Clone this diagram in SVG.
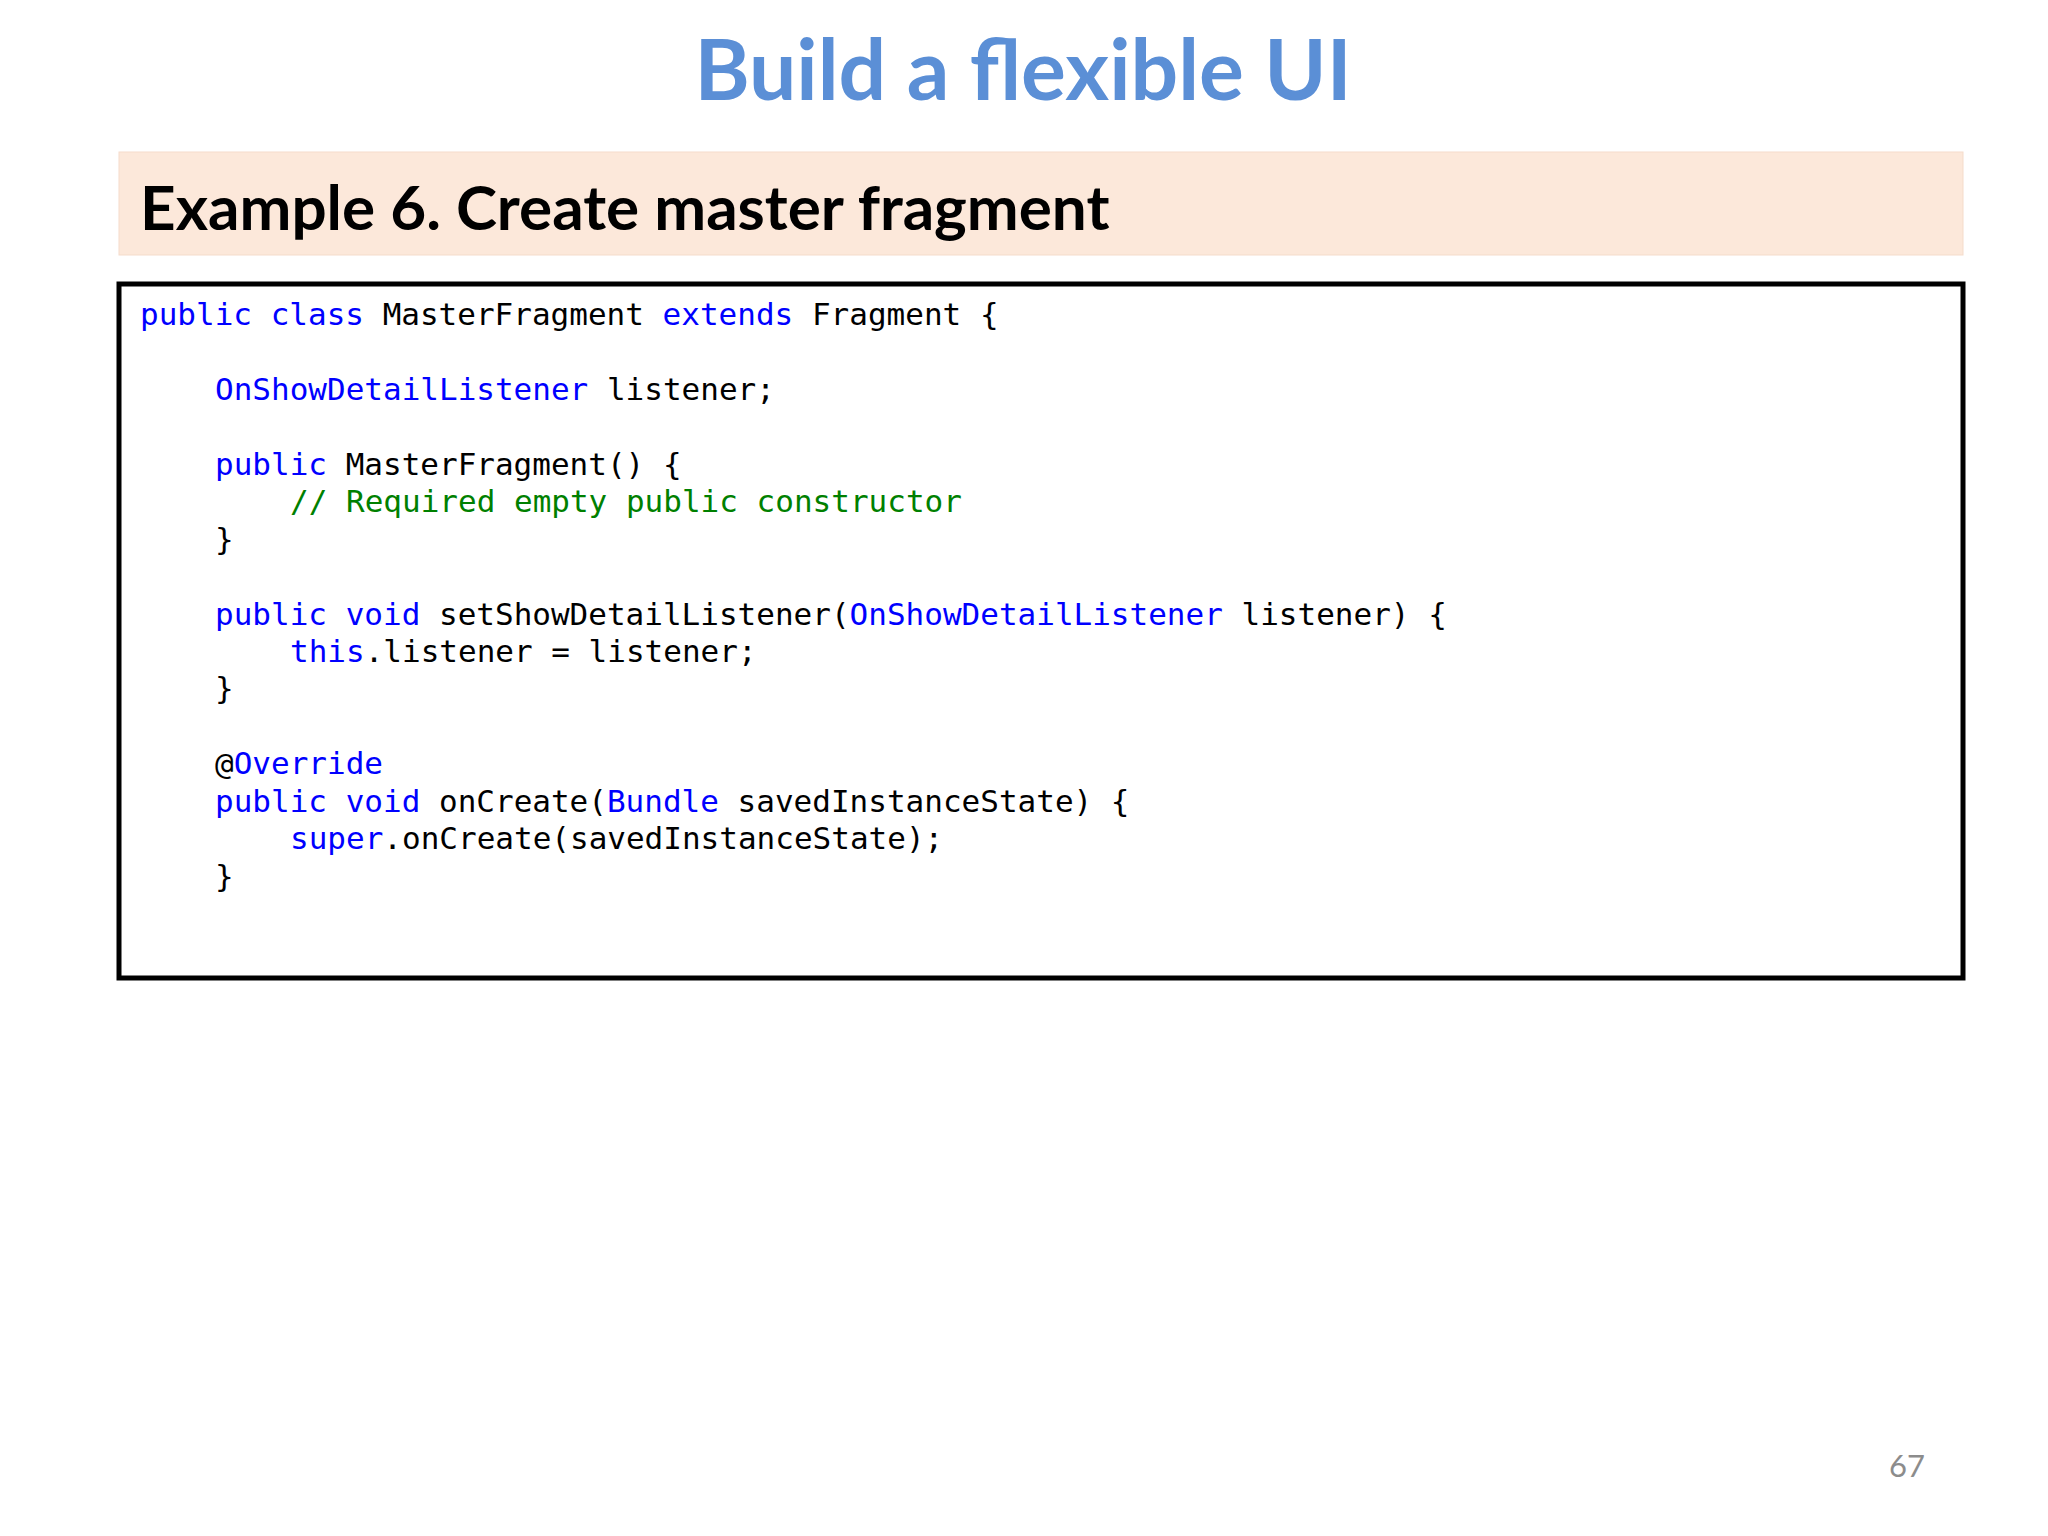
<svg xmlns="http://www.w3.org/2000/svg" width="2048" height="1536" viewBox="0 0 2048 1536">
<style>
.c{font-family:"DejaVu Sans Mono",monospace;font-size:31px;fill:#000;white-space:pre}
.k{fill:#0000ff}.g{fill:#008000}
</style>
<rect width="2048" height="1536" fill="#fff"/>
<g id="title"><text x="1023" y="100" text-anchor="middle" font-family="Lato,'Liberation Sans',sans-serif" font-weight="bold" font-size="84" fill="#5b8fd6">Build a flexible UI</text></g>
<g id="header"><rect x="119" y="152" width="1844" height="103" fill="#fce8da" stroke="#f5dccb" stroke-width="1"/>
<text x="140" y="230" font-family="Lato,'Liberation Sans',sans-serif" font-weight="bold" font-size="62" fill="#000">Example 6. Create master fragment</text></g>
<g id="code"><rect x="119" y="284" width="1844" height="694" fill="#fff" stroke="#000" stroke-width="5"/>
<text class="c" x="140" y="325"><tspan class="k">public class</tspan> MasterFragment <tspan class="k">extends</tspan> Fragment {</text>
<text class="c" x="215" y="400"><tspan class="k">OnShowDetailListener</tspan> listener;</text>
<text class="c" x="215" y="475"><tspan class="k">public</tspan> MasterFragment() {</text>
<text class="c g" x="290" y="512">// Required empty public constructor</text>
<text class="c" x="215" y="550">}</text>
<text class="c" x="215" y="625"><tspan class="k">public void</tspan> setShowDetailListener(<tspan class="k">OnShowDetailListener</tspan> listener) {</text>
<text class="c" x="290" y="662"><tspan class="k">this</tspan>.listener = listener;</text>
<text class="c" x="215" y="699">}</text>
<text class="c" x="215" y="774">@<tspan class="k">Override</tspan></text>
<text class="c" x="215" y="812"><tspan class="k">public void</tspan> onCreate(<tspan class="k">Bundle</tspan> savedInstanceState) {</text>
<text class="c" x="290" y="849"><tspan class="k">super</tspan>.onCreate(savedInstanceState);</text>
<text class="c" x="215" y="887">}</text>
</g>
<g id="page"><text x="1907" y="1477" text-anchor="middle" font-family="Lato,'Liberation Sans',sans-serif" font-size="31" fill="#8c8c8c">67</text></g>
</svg>
